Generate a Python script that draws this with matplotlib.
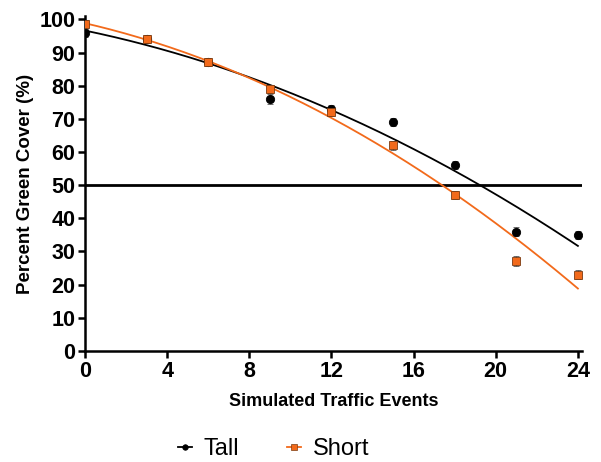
import numpy as np
import matplotlib
matplotlib.use("Agg")
import matplotlib.pyplot as plt
from matplotlib.lines import Line2D

plt.rcParams['font.family'] = ['Liberation Sans', 'DejaVu Sans']

events = [0, 3, 6, 9, 12, 15, 18, 21, 24]
tall = [96, 94, 87, 76, 73, 69, 56, 36, 35]
tall_err = [1.2, 1.2, 1.2, 1.5, 1.2, 1.3, 1.2, 1.3, 1.2]
short = [98.5, 94, 87, 79, 72, 62, 47, 27, 23]
short_err = [1.3, 1.2, 1.2, 1.3, 1.2, 1.3, 1.2, 1.5, 1.3]

orange = '#f26a1b'
fig = plt.figure(figsize=(6.01, 4.62), dpi=100)
ax = fig.add_axes([0.1414, 0.2403, 0.827, 0.725])

xs = np.linspace(0, 24, 200)
handles = []
for y, e, col, mec, mk, lab in [(tall, tall_err, 'black', 'black', 'o', 'Tall'),
                                (short, short_err, orange, '#7a3a10', 's', 'Short')]:
    c = np.polyfit(events, y, 2)
    ax.plot(xs, np.polyval(c, xs), color=col, lw=1.3, zorder=2)
    ax.errorbar(events, y, yerr=e, fmt=mk, color=col, mec=mec, ms=6, mew=0.6,
                ecolor='#555555', elinewidth=0.9, capsize=2.5, capthick=0.9, zorder=3)
    handles.append(Line2D([], [], color=col, lw=1.3, marker=mk, ms=4, mec=mec, mew=0.5,
                          label=lab))

ax.axhline(50, color='black', lw=2, zorder=1)

ax.set_xlim(0, 24.2)
ax.set_ylim(0, 101)
ax.set_xticks([0, 4, 8, 12, 16, 20, 24])
ax.set_yticks(range(0, 101, 10))
for s in ['top', 'right']:
    ax.spines[s].set_visible(False)
for s in ['left', 'bottom']:
    ax.spines[s].set_linewidth(1.8)
ax.tick_params(width=1.8, length=5, labelsize=15.5, direction='out', pad=2)
for t in ax.get_xticklabels() + ax.get_yticklabels():
    t.set_fontweight('bold')
ax.set_xlabel('Simulated Traffic Events', fontsize=13, fontweight='bold', labelpad=8)
ax.set_ylabel('Percent Green Cover (%)', fontsize=13.5, fontweight='bold', labelpad=4)

fig.legend(handles=handles, loc='center', bbox_to_anchor=(0.455, 0.028), ncol=2, frameon=False,
           fontsize=17, handlelength=0.6, columnspacing=2.0, handletextpad=0.5)

fig.savefig('out.png', dpi=100)
